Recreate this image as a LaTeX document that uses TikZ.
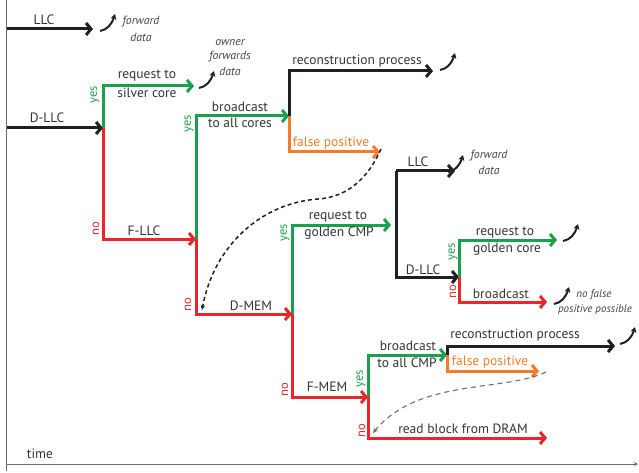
\documentclass[tikz,border=0pt]{standalone}
\usepackage{fontspec}
\setmainfont{PT Sans}
\usetikzlibrary{arrows.meta}
\definecolor{cgreen}{HTML}{1BA14B}
\definecolor{cred}{HTML}{E8262B}
\definecolor{corange}{HTML}{F47B2A}
\definecolor{cblack}{HTML}{231F20}
\definecolor{ctext}{HTML}{333333}
\definecolor{cnote}{HTML}{444444}
\definecolor{caxis}{HTML}{6E6E6E}
\begin{document}
\begin{tikzpicture}[x=1pt,y=-1pt,
  seg/.style={line width=3pt},
  flow/.style={line width=3pt,-{Straight Barb[length=5pt,width=12pt]}},
  lbl/.style={text=ctext,font=\fontsize{13.5}{14}\selectfont,inner sep=0pt},
  note/.style={text=cnote,font=\fontsize{11.8}{13}\selectfont\itshape,inner sep=0pt},
  smallnote/.style={text=cnote,font=\fontsize{11}{12}\selectfont\itshape,inner sep=0pt},
  yn/.style={font=\fontsize{12.5}{13}\selectfont,rotate=90,inner sep=0pt},
  curl/.style={cblack,line width=2pt,-{Stealth[length=5.5pt,width=6pt]}},
  dashA/.style={cblack,line width=1.5pt,dash pattern=on 4pt off 3pt,-{Stealth[length=5pt,width=4.5pt]}},
  dashB/.style={caxis,line width=1.1pt,dash pattern=on 5pt off 4pt,-{Stealth[length=5pt,width=4.5pt]}},
  curlarrow/.pic={\draw[curl] (0,0) .. controls (7,-1) and (12,-7) .. (15,-17);}
]
\useasboundingbox (0,0) rectangle (639,473);

% axes
\coordinate (ax0) at (6.5,0);
\coordinate (ax1) at (6.5,471);
\coordinate (tx0) at (6.5,464);
\coordinate (tx1) at (638,464);
\draw[caxis,line width=1pt] (ax0) -- (ax1);
\draw[caxis,line width=1pt,-{Stealth[length=4pt,width=4pt]}] (tx0) -- (tx1);
\node[lbl] (time) at (40,454) {time};

% coordinates
\coordinate (llcS) at (6.5,29);
\coordinate (llcE) at (93,29);
\coordinate (dllcS) at (6.5,128);
\coordinate (b1) at (103,128);
\coordinate (silverE) at (194,86);
\coordinate (b2) at (196,239);
\coordinate (b3) at (289,116);
\coordinate (rec1E) at (433,71);
\coordinate (fp1E) at (380,152);
\coordinate (b4) at (292,314);
\coordinate (gcmpE) at (391,225);
\coordinate (b5) at (396,225);
\coordinate (llc2E) at (455,171);
\coordinate (b6) at (459,277);
\coordinate (gcoreE) at (557,240);
\coordinate (bc2E) at (547,302);
\coordinate (b7) at (368,397);
\coordinate (b8) at (447,355);
\coordinate (rec2E) at (615,346);
\coordinate (fp2E) at (539,371);
\coordinate (dramE) at (547,438);

% LLC
\draw[flow,cblack] (llcS) -- (llcE);
\node[lbl] (tLLC) at (44,20) {LLC};
\pic at (100,31) {curlarrow};
\node[note] (fwd1a) at (141,22) {forward};
\node[note] (fwd1b) at (141,37) {data};

% D-LLC
\draw[flow,cblack] (dllcS) -- (b1);
\node[lbl] (tDLLC) at (47,118) {D-LLC};

% silver core
\draw[flow,cgreen] (b1) |- (silverE);
\node[yn,cgreen] (yes1) at (95,95) {yes};
\node[lbl] (rq1a) at (147,76) {request to};
\node[lbl] (rq1b) at (147,93) {silver core};
\pic at (199,88) {curlarrow};
\node[note] (own1) at (230,43) {owner};
\node[note] (own2) at (230,57) {forwards};
\node[note] (own3) at (230,71) {data};

% F-LLC
\draw[flow,cred] (b1) |- (b2);
\node[yn,cred] (no1) at (96,229) {no};
\node[lbl] (tFLLC) at (144,231) {F-LLC};

% broadcast to all cores
\draw[flow,cgreen] (b2) |- (b3);
\node[yn,cgreen] (yes2) at (189,124) {yes};
\node[lbl] (bc1a) at (240,107) {broadcast};
\node[lbl] (bc1b) at (240,123) {to all cores};

% reconstruction process 1
\draw[flow,cblack] (b3) |- (rec1E);
\node[lbl] (rec1) at (357,61) {reconstruction process};
\pic at (440,70) {curlarrow};

% false positive 1
\draw[flow,corange] (b3) |- (fp1E);
\node[lbl,text=corange] (fp1) at (331,143) {false positive};

% dashed return 1
\coordinate (d1s) at (381,149);
\coordinate (d1e) at (202,310);
\draw[dashA] (d1s) .. controls (368,178) and (348,197) .. (318,199)
  .. controls (262,203) and (214,245) .. (d1e);

% D-MEM
\draw[flow,cred] (b2) |- (b4);
\node[yn,cred] (no2) at (188,305) {no};
\node[lbl] (tDMEM) at (251,306) {D-MEM};

% request to golden CMP
\draw[flow,cgreen] (b4) |- (gcmpE);
\node[yn,cgreen] (yes3) at (285,233) {yes};
\node[lbl] (rq2a) at (338,217) {request to};
\node[lbl] (rq2b) at (339,233) {golden CMP};

% LLC / D-LLC branch
\draw[seg,cblack] (b5) -- ++(0,-54);
\draw[flow,cblack] (b5) ++(0,-54) -- (llc2E);
\node[lbl] (tLLC2) at (418,162) {LLC};
\pic at (448,172) {curlarrow};
\node[note] (fwd2a) at (489,156) {forward};
\node[note] (fwd2b) at (489,170) {data};
\draw[flow,cblack] (b5) |- (b6);
\node[lbl] (tDLLC2) at (423,270) {D-LLC};

% golden core
\draw[flow,cgreen] (b6) |- (gcoreE);
\node[yn,cgreen] (yes4) at (453,252) {yes};
\node[lbl] (rq3a) at (505,233) {request to};
\node[lbl] (rq3b) at (507,249) {golden core};
\pic at (563,241) {curlarrow};

% broadcast (no false positive)
\draw[flow,cred] (b6) |- (bc2E);
\node[yn,cred] (no3) at (453,292) {no};
\node[lbl] (bc2) at (501,294) {broadcast};
\pic at (554,304) {curlarrow};
\node[smallnote] (nfp1) at (594,295) {no false};
\node[smallnote] (nfp2) at (595,310) {positive possible};

% F-MEM
\draw[flow,cred] (b4) |- (b7);
\node[yn,cred] (no4) at (285,390) {no};
\node[lbl] (tFMEM) at (327,387) {F-MEM};

% broadcast to all CMP
\draw[flow,cgreen] (b7) |- (b8);
\node[yn,cgreen] (yes5) at (361,379) {yes};
\node[lbl] (bc3a) at (408,346) {broadcast};
\node[lbl] (bc3b) at (407,363) {to all CMP};

% reconstruction process 2
\draw[flow,cblack] (b8) |- (rec2E);
\node[lbl] (rec2) at (515,335) {reconstruction process};
\pic at (620,344) {curlarrow};

% false positive 2
\draw[flow,corange] (b8) |- (fp2E);
\node[lbl,text=corange] (fp2) at (490,362) {false positive};

% dashed return 2
\coordinate (d2s) at (546,372);
\coordinate (d2e) at (373,433);
\draw[dashB] (d2s) .. controls (505,392) and (418,378) .. (d2e);

% read block from DRAM
\draw[flow,cred] (b7) |- (dramE);
\node[yn,cred] (no5) at (362,431) {no};
\node[lbl] (dram) at (463,429) {read block from DRAM};

\end{tikzpicture}
\end{document}
